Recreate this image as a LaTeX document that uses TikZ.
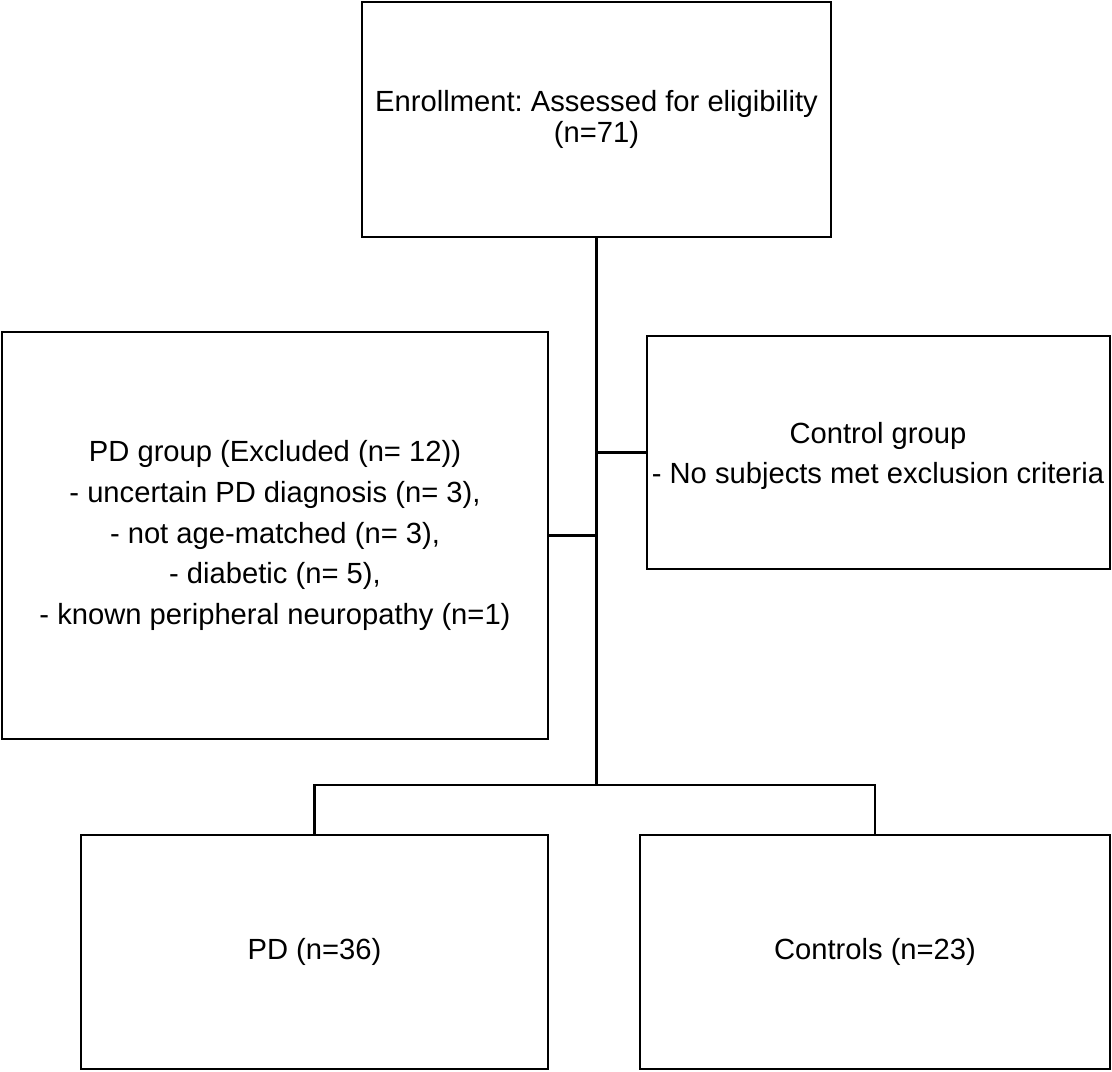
\documentclass[tikz,border=0pt]{standalone}
\usepackage{fontspec}
\setmainfont{Liberation Sans}
\frenchspacing
\begin{document}
\begin{tikzpicture}[
  box/.style={draw,semithick,rectangle,inner sep=0pt,align=center,font=\fontsize{8.3}{9}\selectfont},
  every path/.style={semithick}
]
\useasboundingbox (0,0) rectangle (11.12,-10.72);

\node[box,minimum width=4.69cm,minimum height=2.35cm] (enroll) at (5.965,-1.195)
  {Enrollment: Assessed for eligibility\\(n=71)};

\node[box,minimum width=5.46cm,minimum height=4.07cm,font=\fontsize{8.3}{11.6}\selectfont] (excl) at (2.75,-5.355)
  {PD group (Excluded (n= 12))\\- uncertain PD diagnosis (n= 3),\\- not age-matched (n= 3),\\- diabetic (n= 5),\\- known peripheral neuropathy (n=1)};

\node[box,minimum width=4.63cm,minimum height=2.33cm] (ctrl) at (8.785,-4.525) {};
\node[align=center,inner sep=0pt,font=\fontsize{8.3}{11.4}\selectfont] (ctrltext) at (8.78,-4.56)
  {Control group\\- No subjects met exclusion criteria};

\node[box,minimum width=4.67cm,minimum height=2.34cm] (pd) at (3.145,-9.52) {PD (n=36)};
\node[box,minimum width=4.70cm,minimum height=2.34cm] (ctrls) at (8.75,-9.52) {Controls (n=23)};

\coordinate (split) at (5.965,-7.85);

\draw (enroll.south) -- (split);
\draw (ctrl.west) -- (ctrl.west -| split);
\draw (excl.east) -- (excl.east -| split);
\draw (pd.north) -- (split -| pd.north) -- (split -| ctrls.north) -- (ctrls.north);

\end{tikzpicture}
\end{document}
